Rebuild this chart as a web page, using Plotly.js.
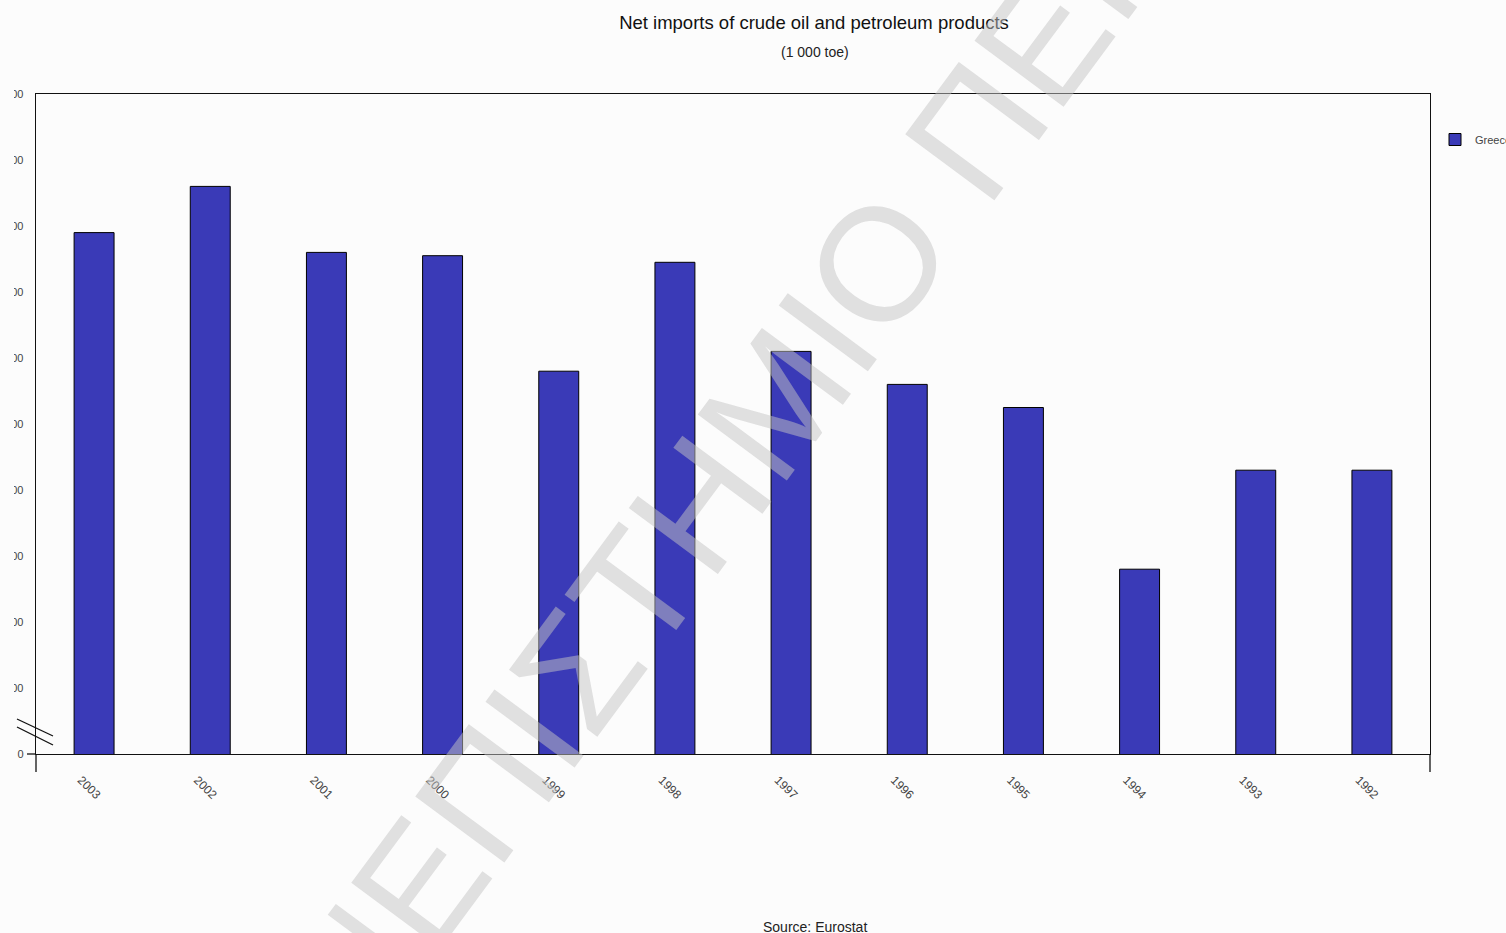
<!DOCTYPE html>
<html>
<head>
<meta charset="utf-8">
<script src="https://cdn.plot.ly/plotly-3.0.1.min.js"></script>
<style>
  html, body { margin: 0; padding: 0; background: #fcfcfc; }
  #chart { width: 1506px; height: 933px; }
</style>
</head>
<body>
<div id="chart"></div>
<script>
// ---- Data ----
const years = ['2003', '2002', '2001', '2000', '1999', '1998', '1997', '1996', '1995', '1994', '1993', '1992'];
const netImports = [20900, 21600, 20600, 20550, 18800, 20450, 19100, 18600, 18250, 15800, 17300, 17300];
const seriesName = 'Greece';
const yTickVals = [13000, 14000, 15000, 16000, 17000, 18000, 19000, 20000, 21000, 22000, 23000];
const yTickText = ['0', '14 000', '15 000', '16 000', '17 000', '18 000', '19 000', '20 000', '21 000', '22 000', '23 000'];
const titleText = 'Net imports of crude oil and petroleum products';
const subtitleText = '(1 000 toe)';
const sourceText = 'Source: Eurostat';
const watermarkText = 'ΠΑΝΕΠΙΣΤΗΜΙΟ ΠΕΙΡΑΙΩΣ';

// ---- Layout helpers (pixel -> paper) ----
const W = 1506, H = 933;
const L = 36, R = 76, T = 94, B = 179;
const PW = W - L - R, PH = H - T - B;
const px = x => (x - L) / PW;
const py = y => (H - B - y) / PH;
const FONT = '"Liberation Sans", Arial, sans-serif';
const BG = '#fcfcfc';

const trace = {
  type: 'bar',
  x: years,
  y: netImports,
  name: seriesName,
  marker: { color: '#3a3ab7', line: { color: '#000000', width: 1 } },
  hoverinfo: 'x+y'
};

const line = (x0, y0, x1, y1) => ({
  type: 'line', xref: 'paper', yref: 'paper',
  x0: px(x0), y0: py(y0), x1: px(x1), y1: py(y1),
  line: { color: '#111', width: 1.3 }, layer: 'above'
});

const layout = {
  width: W, height: H,
  paper_bgcolor: BG, plot_bgcolor: BG,
  margin: { l: L, r: R, t: T, b: B, pad: 0, autoexpand: false },
  font: { family: FONT, color: '#333' },
  showlegend: true,
  bargap: 0.656,
  title: {
    text: titleText,
    font: { family: FONT, size: 18.5, color: '#111' },
    xref: 'paper', x: px(814), xanchor: 'center',
    yref: 'container', y: 1 - 23 / H, yanchor: 'middle'
  },
  xaxis: {
    type: 'category',
    showline: true, linecolor: '#111', linewidth: 1.3, mirror: true,
    ticks: '', showgrid: false, zeroline: false,
    tickangle: 45,
    tickfont: { family: FONT, size: 12, color: '#444' },
    ticklabelstandoff: 13,
    ticklabelshift: -13,
    fixedrange: true
  },
  yaxis: {
    range: [13000, 23000],
    tickmode: 'array', tickvals: yTickVals, ticktext: yTickText,
    showline: true, linecolor: '#111', linewidth: 1.3, mirror: true,
    ticks: '', showgrid: false, zeroline: false,
    tickfont: { family: FONT, size: 11, color: '#444' },
    ticklabelstandoff: 9,
    fixedrange: true
  },
  legend: {
    x: px(1435), xanchor: 'left',
    y: py(125), yanchor: 'top',
    bgcolor: 'rgba(0,0,0,0)', borderwidth: 0,
    itemwidth: 30,
    font: { family: FONT, size: 11, color: '#444' }
  },
  shapes: [
    // mask that trims the y tick labels at the left edge, as in the picture
    { type: 'rect', xref: 'paper', yref: 'paper', x0: px(-2), x1: px(14), y0: py(770), y1: py(80),
      fillcolor: BG, line: { width: 0 }, layer: 'above' },
    // axis break marks
    line(17, 719, 53, 736),
    line(17, 727, 53, 745),
    // tick at the zero label
    line(27, 754, 36, 754),
    // axis extensions below the base line
    line(36, 754, 36, 772),
    line(1430, 754, 1430, 772)
  ],
  annotations: [
    { text: subtitleText, xref: 'paper', yref: 'paper', x: px(815), y: py(52),
      xanchor: 'center', yanchor: 'middle', showarrow: false,
      font: { family: FONT, size: 14, color: '#222' } },
    { text: sourceText, xref: 'paper', yref: 'paper', x: px(815), y: py(927),
      xanchor: 'center', yanchor: 'middle', showarrow: false,
      font: { family: FONT, size: 14, color: '#222' } },
    { text: watermarkText, xref: 'paper', yref: 'paper', x: px(782), y: py(393),
      xanchor: 'center', yanchor: 'middle', showarrow: false, textangle: -53.5,
      font: { family: FONT, size: 161, color: 'rgba(195,195,195,0.5)' } }
  ]
};

Plotly.newPlot('chart', [trace], layout, { displayModeBar: false, staticPlot: true });
</script>
</body>
</html>
